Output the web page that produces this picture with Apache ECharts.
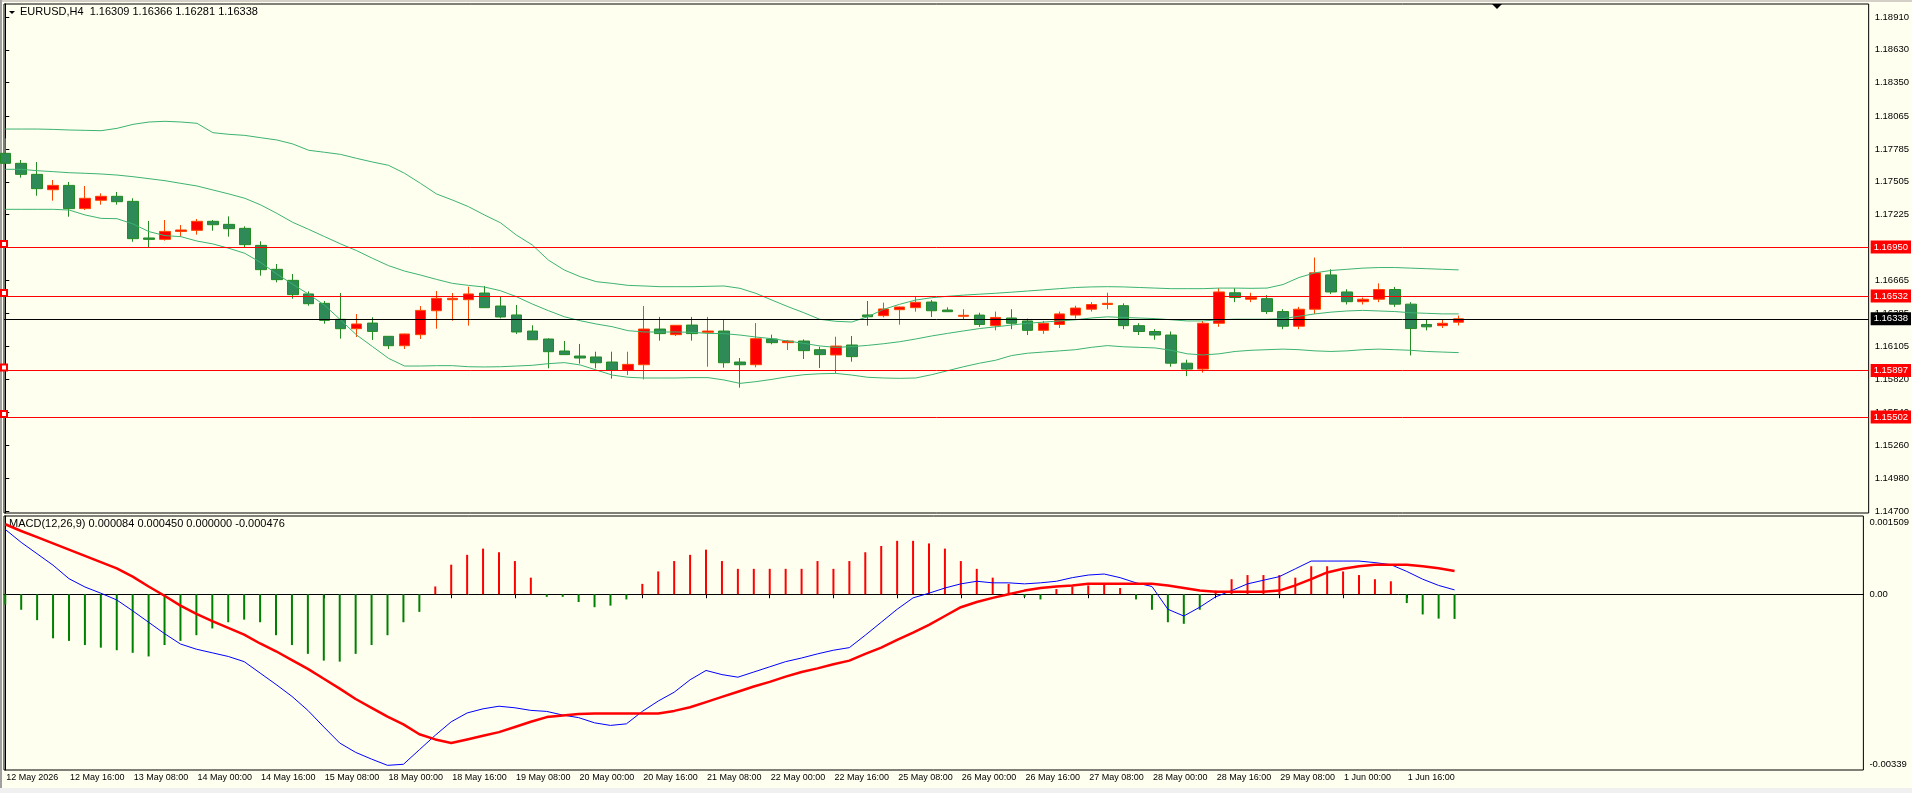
<!DOCTYPE html>
<html>
<head>
<meta charset="utf-8">
<script src="https://cdn.jsdelivr.net/npm/echarts@6/dist/echarts.min.js"></script>
<style>
  html, body { margin: 0; padding: 0; background: #f0f0f0; }
  #chart { position: absolute; left: 0; top: 0; width: 1912px; height: 793px; }
</style>
</head>
<body>
<div id="chart"></div>
<script>
// time labels, one every 4 bars (H4)
const timeLabels = ['12 May 2026', '12 May 16:00', '13 May 08:00', '14 May 00:00', '14 May 16:00',
  '15 May 08:00', '18 May 00:00', '18 May 16:00', '19 May 08:00', '20 May 00:00', '20 May 16:00',
  '21 May 08:00', '22 May 00:00', '22 May 16:00', '25 May 08:00', '26 May 00:00', '26 May 16:00',
  '27 May 08:00', '28 May 00:00', '28 May 16:00', '29 May 08:00', '1 Jun 00:00', '1 Jun 16:00'];

// candles
const opens = [1.17748, 1.17663, 1.17569, 1.17438, 1.17475, 1.17277, 1.17348, 1.17382, 1.17339, 1.17027,
  1.17015, 1.17083, 1.17092, 1.17169, 1.17143, 1.17109, 1.16964, 1.16760, 1.16666, 1.16550,
  1.16470, 1.16334, 1.16254, 1.16302, 1.16189, 1.16109, 1.16203, 1.16407, 1.16501, 1.16501,
  1.16558, 1.16447, 1.16371, 1.16234, 1.16166, 1.16064, 1.16021, 1.16013, 1.15970, 1.15899,
  1.15947, 1.16251, 1.16203, 1.16285, 1.16223, 1.16234, 1.15970, 1.15947, 1.16166, 1.16135,
  1.16149, 1.16075, 1.16030, 1.16115, 1.16371, 1.16365, 1.16416, 1.16433, 1.16481, 1.16413,
  1.16360, 1.16370, 1.16280, 1.16345, 1.16320, 1.16240, 1.16290, 1.16370, 1.16420, 1.16460,
  1.16450, 1.16280, 1.16230, 1.16200, 1.15960, 1.15910, 1.16300, 1.16560, 1.16505, 1.16510,
  1.16400, 1.16275, 1.16420, 1.16712, 1.16567, 1.16484, 1.16505, 1.16588, 1.16463, 1.16290,
  1.16280, 1.16309];
const closes = [1.17663, 1.17569, 1.17447, 1.17475, 1.17277, 1.17365, 1.17382, 1.17336, 1.17021, 1.17015,
  1.17083, 1.17095, 1.17169, 1.17140, 1.17106, 1.16970, 1.16757, 1.16672, 1.16544, 1.16467,
  1.16325, 1.16254, 1.16294, 1.16231, 1.16109, 1.16209, 1.16410, 1.16513, 1.16513, 1.16550,
  1.16433, 1.16354, 1.16226, 1.16160, 1.16058, 1.16033, 1.16004, 1.15964, 1.15899, 1.15950,
  1.16251, 1.16212, 1.16283, 1.16212, 1.16234, 1.15964, 1.15947, 1.16169, 1.16135, 1.16149,
  1.16067, 1.16033, 1.16106, 1.16016, 1.16356, 1.16422, 1.16439, 1.16479, 1.16407, 1.16399,
  1.16368, 1.16290, 1.16350, 1.16300, 1.16240, 1.16300, 1.16380, 1.16430, 1.16460, 1.16470,
  1.16280, 1.16230, 1.16200, 1.15960, 1.15910, 1.16300, 1.16567, 1.16520, 1.16520, 1.16400,
  1.16275, 1.16420, 1.16730, 1.16567, 1.16484, 1.16505, 1.16588, 1.16463, 1.16255, 1.16270,
  1.16300, 1.16338];
const lows = [1.17663, 1.17541, 1.17387, 1.17345, 1.17208, 1.17265, 1.17311, 1.17311, 1.16995, 1.16947,
  1.17004, 1.17038, 1.17055, 1.17089, 1.17038, 1.16950, 1.16706, 1.16649, 1.16510, 1.16450,
  1.16297, 1.16169, 1.16183, 1.16158, 1.16081, 1.16081, 1.16166, 1.16254, 1.16322, 1.16280,
  1.16433, 1.16342, 1.16209, 1.16160, 1.15916, 1.16030, 1.15956, 1.15916, 1.15828, 1.15859,
  1.15822, 1.16152, 1.16192, 1.16152, 1.15930, 1.15922, 1.15752, 1.15925, 1.16121, 1.16072,
  1.15996, 1.15919, 1.15874, 1.15973, 1.16280, 1.16351, 1.16288, 1.16399, 1.16354, 1.16399,
  1.16330, 1.16270, 1.16240, 1.16250, 1.16200, 1.16210, 1.16260, 1.16340, 1.16400, 1.16420,
  1.16250, 1.16200, 1.16160, 1.15930, 1.15850, 1.15880, 1.16270, 1.16480, 1.16480, 1.16380,
  1.16250, 1.16250, 1.16380, 1.16550, 1.16460, 1.16460, 1.16480, 1.16440, 1.16026, 1.16240,
  1.16260, 1.16281];
const highs = [1.17876, 1.17691, 1.17674, 1.17521, 1.17504, 1.17470, 1.17407, 1.17419, 1.17365, 1.17172,
  1.17180, 1.17137, 1.17189, 1.17180, 1.17211, 1.17126, 1.16998, 1.16805, 1.16720, 1.16572,
  1.16490, 1.16558, 1.16379, 1.16351, 1.16192, 1.16212, 1.16447, 1.16575, 1.16558, 1.16612,
  1.16618, 1.16527, 1.16456, 1.16283, 1.16172, 1.16149, 1.16124, 1.16058, 1.16058, 1.16058,
  1.16447, 1.16354, 1.16285, 1.16354, 1.16354, 1.16337, 1.16004, 1.16302, 1.16203, 1.16158,
  1.16163, 1.16101, 1.16186, 1.16192, 1.16490, 1.16476, 1.16442, 1.16527, 1.16498, 1.16436,
  1.16420, 1.16390, 1.16400, 1.16420, 1.16340, 1.16320, 1.16400, 1.16450, 1.16480, 1.16560,
  1.16470, 1.16300, 1.16250, 1.16230, 1.15990, 1.16320, 1.16600, 1.16600, 1.16560, 1.16540,
  1.16420, 1.16440, 1.16860, 1.16760, 1.16590, 1.16520, 1.16640, 1.16610, 1.16480, 1.16330,
  1.16330, 1.16366];

// Bollinger bands
const bbUpper = [1.17955, 1.17955, 1.17955, 1.17952, 1.17947, 1.17944, 1.17941, 1.17961, 1.17995, 1.18015,
  1.18021, 1.18015, 1.18004, 1.17924, 1.17910, 1.17901, 1.17881, 1.17862, 1.17828, 1.17774,
  1.17757, 1.17739, 1.17705, 1.17674, 1.17646, 1.17578, 1.17492, 1.17402, 1.17350, 1.17294,
  1.17223, 1.17157, 1.17052, 1.16967, 1.16839, 1.16754, 1.16697, 1.16655, 1.16640, 1.16623,
  1.16618, 1.16612, 1.16612, 1.16612, 1.16615, 1.16618, 1.16598, 1.16555, 1.16498, 1.16442,
  1.16390, 1.16334, 1.16317, 1.16311, 1.16356, 1.16419, 1.16462, 1.16498, 1.16518, 1.16530,
  1.16540, 1.16548, 1.16556, 1.16565, 1.16575, 1.16585, 1.16595, 1.16605, 1.16610, 1.16612,
  1.16610, 1.16605, 1.16600, 1.16595, 1.16595, 1.16595, 1.16600, 1.16600, 1.16598, 1.16600,
  1.16630, 1.16690, 1.16730, 1.16750, 1.16760, 1.16770, 1.16775, 1.16775, 1.16770, 1.16765,
  1.16760, 1.16755];
const bbMiddle = [1.17612, 1.17612, 1.17600, 1.17592, 1.17583, 1.17578, 1.17572, 1.17563, 1.17549, 1.17532,
  1.17515, 1.17492, 1.17470, 1.17436, 1.17402, 1.17365, 1.17308, 1.17237, 1.17160, 1.17100,
  1.17038, 1.16976, 1.16919, 1.16853, 1.16791, 1.16745, 1.16711, 1.16674, 1.16640, 1.16623,
  1.16609, 1.16578, 1.16527, 1.16464, 1.16408, 1.16356, 1.16322, 1.16294, 1.16271, 1.16237,
  1.16226, 1.16226, 1.16226, 1.16223, 1.16214, 1.16212, 1.16200, 1.16183, 1.16169, 1.16149,
  1.16129, 1.16107, 1.16095, 1.16101, 1.16112, 1.16126, 1.16143, 1.16166, 1.16192, 1.16214,
  1.16235, 1.16255, 1.16270, 1.16285, 1.16300, 1.16310, 1.16320, 1.16330, 1.16345, 1.16355,
  1.16350, 1.16345, 1.16340, 1.16330, 1.16320, 1.16320, 1.16330, 1.16335, 1.16335, 1.16335,
  1.16340, 1.16360, 1.16380, 1.16395, 1.16405, 1.16410, 1.16405, 1.16400, 1.16390, 1.16385,
  1.16380, 1.16380];
const bbLower = [1.17271, 1.17271, 1.17271, 1.17271, 1.17265, 1.17223, 1.17194, 1.17191, 1.17146, 1.17081,
  1.17047, 1.17038, 1.17001, 1.16976, 1.16939, 1.16896, 1.16817, 1.16720, 1.16632, 1.16547,
  1.16453, 1.16328, 1.16200, 1.16101, 1.16001, 1.15936, 1.15936, 1.15939, 1.15939, 1.15930,
  1.15928, 1.15930, 1.15936, 1.15942, 1.15956, 1.15965, 1.15945, 1.15902, 1.15859, 1.15840,
  1.15834, 1.15834, 1.15834, 1.15837, 1.15837, 1.15817, 1.15788, 1.15803, 1.15822, 1.15845,
  1.15862, 1.15870, 1.15873, 1.15859, 1.15840, 1.15834, 1.15831, 1.15834, 1.15862, 1.15896,
  1.15930, 1.15960, 1.15985, 1.16025, 1.16045, 1.16055, 1.16065, 1.16075, 1.16095, 1.16110,
  1.16100, 1.16095, 1.16090, 1.16070, 1.16040, 1.16030, 1.16040, 1.16060, 1.16070, 1.16075,
  1.16080, 1.16075, 1.16065, 1.16060, 1.16065, 1.16075, 1.16080, 1.16075, 1.16070, 1.16060,
  1.16055, 1.16050];

// MACD (values in thousandths)
const macdHist = [-0.2, -0.3, -0.5, -0.85, -0.9, -0.98, -1.03, -1.08, -1.13, -1.2,
  -0.98, -0.9, -0.79, -0.66, -0.54, -0.49, -0.54, -0.79, -0.98, -1.15,
  -1.28, -1.3, -1.15, -0.98, -0.79, -0.54, -0.34, 0.15, 0.57, 0.76,
  0.88, 0.81, 0.64, 0.32, -0.05, -0.05, -0.15, -0.25, -0.22, -0.1,
  0.2, 0.44, 0.64, 0.76, 0.86, 0.64, 0.49, 0.49, 0.49, 0.49,
  0.49, 0.64, 0.49, 0.64, 0.81, 0.93, 1.03, 1.03, 0.98, 0.88,
  0.64, 0.49, 0.32, 0.2, -0.05, -0.1, 0.1, 0.15, 0.17, 0.2,
  0.12, -0.1, -0.3, -0.54, -0.57, -0.3, 0.07, 0.29, 0.37, 0.37,
  0.37, 0.32, 0.54, 0.54, 0.44, 0.37, 0.29, 0.25, -0.17, -0.39,
  -0.47, -0.476];
const macdMain = [1.25, 1.0, 0.78, 0.56, 0.30, 0.14, 0.02, -0.11, -0.32, -0.54,
  -0.76, -0.96, -1.06, -1.13, -1.2, -1.3, -1.52, -1.74, -1.97, -2.24,
  -2.56, -2.87, -3.05, -3.18, -3.30, -3.28, -3.0, -2.72, -2.46, -2.29,
  -2.21, -2.16, -2.19, -2.24, -2.26, -2.33, -2.38, -2.48, -2.53, -2.5,
  -2.26, -2.06, -1.89, -1.65, -1.47, -1.55, -1.6, -1.5, -1.4, -1.3,
  -1.23, -1.15, -1.08, -1.03, -0.79, -0.54, -0.29, -0.07, 0.02, 0.12,
  0.2, 0.25, 0.22, 0.22, 0.2, 0.22, 0.25, 0.32, 0.37, 0.39,
  0.32, 0.22, 0.15, -0.29, -0.42, -0.25, -0.05, 0.07, 0.2, 0.27,
  0.34, 0.49, 0.64, 0.64, 0.64, 0.64, 0.61, 0.57, 0.44, 0.29,
  0.17, 0.084];
const macdSignal = [1.35, 1.22, 1.1, 0.98, 0.86, 0.74, 0.62, 0.5, 0.34, 0.15,
  -0.03, -0.22, -0.38, -0.52, -0.65, -0.78, -0.95, -1.1, -1.27, -1.44,
  -1.63, -1.82, -2.02, -2.19, -2.36, -2.51, -2.7, -2.8, -2.87, -2.8,
  -2.73, -2.66, -2.56, -2.46, -2.37, -2.34, -2.31, -2.3, -2.3, -2.3,
  -2.3, -2.3, -2.25, -2.18, -2.08, -1.98, -1.88, -1.78, -1.69, -1.59,
  -1.5, -1.43, -1.35, -1.28, -1.15, -1.03, -0.88, -0.74, -0.59, -0.42,
  -0.25, -0.15, -0.07, 0.0, 0.07, 0.12, 0.15, 0.17, 0.2, 0.2,
  0.2, 0.2, 0.2, 0.17, 0.12, 0.07, 0.05, 0.05, 0.05, 0.05,
  0.07, 0.17, 0.29, 0.42, 0.49, 0.54, 0.57, 0.57, 0.57, 0.54,
  0.5, 0.45];

// axis labels
const priceTicks = [1.18910, 1.18630, 1.18350, 1.18065, 1.17785, 1.17505, 1.17225, 1.16665,
  1.16385, 1.16105, 1.15820, 1.15540, 1.15260, 1.14980, 1.14700];
const levels = [1.16950, 1.16532, 1.15897, 1.15502];
const lastPrice = 1.16338;
const macdMax = 0.001509, macdMin = -0.00339;
const macdTickText = ['0.001509', '0.00', '-0.00339'];

const FONT = 'Liberation Sans';
const XMIN = -0.08, XMAX = 116.67;
const labelIdx = timeLabels.map((t, k) => k * 4);
// max/min labels sit just inside the pane edges
const macdLabelVals = [macdMax - 0.000116, 0, macdMin + 0.000116];

const candleData = opens.map((o, i) => [i, o, closes[i], lows[i], highs[i]]);
const pts = arr => arr.map((v, i) => [i, v]);
const milli = arr => arr.map((v, i) => [i, v / 1000]);

const chart = echarts.init(document.getElementById('chart'));

chart.setOption({
  animation: false,
  backgroundColor: '#FFFFF0',
  textStyle: { fontFamily: FONT },
  grid: [
    { left: 4, right: 40, top: 4, height: 509, show: true, borderColor: '#000', borderWidth: 1 },
    { left: 4, right: 40, top: 516, height: 254, show: true, borderColor: '#000', borderWidth: 1 }
  ],
  xAxis: [
    { type: 'value', gridIndex: 0, min: XMIN, max: XMAX, show: false, splitLine: { show: false } },
    {
      type: 'value', gridIndex: 1, min: XMIN, max: XMAX,
      splitLine: { show: false },
      axisLine: { show: true, lineStyle: { color: '#000' } },
      axisTick: { show: true, customValues: labelIdx, length: 4, lineStyle: { color: '#000' } },
      axisLabel: {
        customValues: labelIdx, align: 'left', margin: 3, padding: [0, 0, 0, 1],
        fontSize: 9, color: '#000', fontFamily: FONT,
        formatter: v => timeLabels[Math.round(v / 4)] || ''
      }
    }
  ],
  yAxis: [
    {
      type: 'value', gridIndex: 0, position: 'right', min: 1.146837, max: 1.190204,
      splitLine: { show: false },
      axisLine: { show: true, lineStyle: { color: '#000' } },
      axisTick: { show: true, customValues: priceTicks, length: 4, lineStyle: { color: '#000' } },
      axisLabel: {
        customValues: priceTicks, margin: 6, fontSize: 9.5, color: '#000', fontFamily: FONT,
        formatter: v => v.toFixed(5)
      }
    },
    {
      type: 'value', gridIndex: 1, position: 'right', min: macdMin, max: macdMax,
      splitLine: { show: false },
      axisLine: { show: true, lineStyle: { color: '#000' } },
      axisTick: { show: true, customValues: [0], length: 4, lineStyle: { color: '#000' } },
      axisLabel: {
        customValues: macdLabelVals, margin: 6, fontSize: 9.5, color: '#000', fontFamily: FONT,
        formatter: v => macdTickText[macdLabelVals.findIndex(t => Math.abs(t - v) < 1e-7)] || ''
      }
    }
  ],
  series: [
    {
      type: 'line', xAxisIndex: 0, yAxisIndex: 0, data: pts(bbUpper), symbol: 'none',
      lineStyle: { color: '#3CB371', width: 1 }, silent: true
    },
    {
      type: 'line', xAxisIndex: 0, yAxisIndex: 0, data: pts(bbMiddle), symbol: 'none',
      lineStyle: { color: '#3CB371', width: 1 }, silent: true
    },
    {
      type: 'line', xAxisIndex: 0, yAxisIndex: 0, data: pts(bbLower), symbol: 'none',
      lineStyle: { color: '#3CB371', width: 1 }, silent: true
    },
    {
      type: 'candlestick', xAxisIndex: 0, yAxisIndex: 0,
      data: candleData, encode: { x: 0, y: [1, 2, 3, 4] },
      barWidth: 11,
      itemStyle: {
        color: '#FF0000', color0: '#2E8B57',
        borderColor: '#FF4500', borderColor0: '#228B22', borderWidth: 1
      },
      markLine: {
        silent: true, animation: false, precision: 5,
        symbol: ['emptyRect', 'none'], symbolSize: 6, symbolOffset: [[3, 0], [0, 0]],
        lineStyle: { color: '#FF0000', width: 1, type: 'solid' },
        label: {
          show: true, position: 'end', distance: 2,
          color: '#fff', backgroundColor: '#FF0000', padding: [2, 3, 1, 3],
          fontSize: 9.5, fontFamily: FONT,
          formatter: p => Number(p.value).toFixed(5)
        },
        data: levels.map(v => ({ yAxis: v })).concat([{
          yAxis: lastPrice, symbol: 'none',
          lineStyle: { color: '#000', width: 1, type: 'solid' },
          label: { backgroundColor: '#000', color: '#fff' }
        }])
      }
    },
    {
      type: 'bar', xAxisIndex: 1, yAxisIndex: 1, data: milli(macdHist), barWidth: 2,
      itemStyle: { color: p => (p.value[1] >= 0 ? '#FF0000' : '#008000') }, silent: true
    },
    {
      type: 'line', xAxisIndex: 1, yAxisIndex: 1, data: milli(macdMain), symbol: 'none',
      lineStyle: { color: '#0000FF', width: 1 }, silent: true
    },
    {
      type: 'line', xAxisIndex: 1, yAxisIndex: 1, data: milli(macdSignal), symbol: 'none',
      lineStyle: { color: '#FF0000', width: 2.5 }, silent: true
    }
  ],
  graphic: [
    { type: 'rect', shape: { x: 0, y: 0, width: 1912, height: 2 }, style: { fill: '#D4D0C8' }, silent: true },
    { type: 'rect', shape: { x: 0, y: 0, width: 2, height: 793 }, style: { fill: '#A0A0A0' }, silent: true },
    { type: 'rect', shape: { x: 0, y: 788, width: 1912, height: 5 }, style: { fill: '#F0F0F0' }, silent: true },
    { type: 'polygon', shape: { points: [[9, 11], [15, 11], [12, 14]] }, style: { fill: '#000' }, silent: true },
    {
      type: 'text', left: 20, top: 6, silent: true,
      style: { text: 'EURUSD,H4  1.16309 1.16366 1.16281 1.16338', fill: '#000', font: '11px "Liberation Sans"' }
    },
    {
      type: 'text', left: 9, top: 518, silent: true,
      style: { text: 'MACD(12,26,9) 0.000084 0.000450 0.000000 -0.000476', fill: '#000', font: '11px "Liberation Sans"' }
    },
    { type: 'polygon', shape: { points: [[1492, 4], [1502, 4], [1497, 9]] }, style: { fill: '#000' }, silent: true }
  ]
});
</script>
</body>
</html>
